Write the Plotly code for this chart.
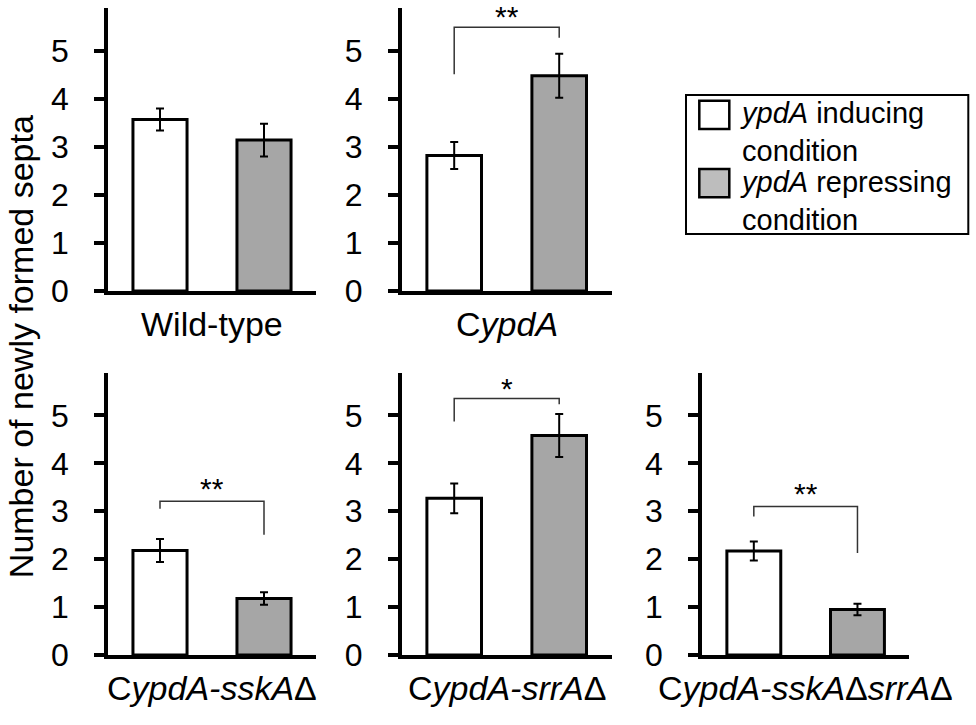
import plotly.graph_objects as go

# -----------------------------------------------------------------------------
# Data (mean +/- error, per strain)
# -----------------------------------------------------------------------------
strains = [
    "Wild-type",
    "C<i>ypdA</i>",
    "C<i>ypdA-sskA</i>Δ",
    "C<i>ypdA-srrA</i>Δ",
    "C<i>ypdA-sskA</i>Δ<i>srrA</i>Δ",
]
conditions = ["<i>ypdA</i> inducing<br>condition", "<i>ypdA</i> repressing<br>condition"]

inducing_mean = [3.57, 2.82, 2.18, 3.27, 2.17]
inducing_err = [0.23, 0.28, 0.24, 0.31, 0.20]
repressing_mean = [3.14, 4.48, 1.18, 4.58, 0.95]
repressing_err = [0.34, 0.46, 0.13, 0.45, 0.12]

# significance brackets: label, top y, left leg bottom, right leg bottom (None = no bracket)
sig_label = [None, "**", "**", "*", "**"]
sig_top = [None, 5.49, 3.21, 5.35, 3.10]
sig_left = [None, 4.51, 3.05, 4.87, 2.89]
sig_right = [None, 5.27, 2.51, 5.23, 2.13]
sig_text_y = [None, 5.72, 3.48, 5.58, 3.38]

y_ticks = [0, 1, 2, 3, 4, 5]

# -----------------------------------------------------------------------------
# Layout geometry (px of the 976x725 reference, turned into paper fractions)
# -----------------------------------------------------------------------------
W, H = 976, 725
FONT = "Arial, Liberation Sans, sans-serif"
WHITE = "#ffffff"
GREY = "#a6a6a6"

# x domains (px) and y domains (px from top: baseline, top)
x_dom_px = [(108, 316), (401.7, 611.7), (108, 316), (401.7, 611.7), (702, 909.3)]
y_dom_px = [(298.3, 8.7), (298.3, 8.7), (671.7, 382.7), (671.7, 382.7), (671.7, 382.7)]
Y_MAX = 5.88

fig = go.Figure()
annotations = []
shapes = []

for i, name in enumerate(strains):
    n = i + 1
    xa = "x" if n == 1 else f"x{n}"
    ya = "y" if n == 1 else f"y{n}"

    fig.add_trace(go.Bar(
        x=[0, 1],
        y=[inducing_mean[i], repressing_mean[i]],
        error_y=dict(type="data", array=[inducing_err[i], repressing_err[i]],
                     color="black", thickness=2, width=4),
        marker=dict(color=[WHITE, GREY], line=dict(color="black", width=3)),
        width=0.52,
        xaxis=xa, yaxis=ya,
        showlegend=False,
        hoverinfo="skip",
    ))

    if sig_label[i] is not None:
        fig.add_trace(go.Scatter(
            x=[0, 0, 1, 1],
            y=[sig_left[i], sig_top[i], sig_top[i], sig_right[i]],
            mode="lines",
            line=dict(color="#333333", width=1.5),
            xaxis=xa, yaxis=ya,
            showlegend=False,
            hoverinfo="skip",
        ))
        annotations.append(dict(
            x=0.5, y=sig_text_y[i], xref=xa, yref=ya,
            text=sig_label[i], showarrow=False, height=22,
            font=dict(family=FONT, size=30, color="black"),
        ))

    # strain label below each panel
    annotations.append(dict(
        x=0.5, y=0, xref=f"{xa} domain", yref=f"{ya} domain",
        text=name, showarrow=False, xanchor="center", yanchor="top", yshift=-12,
        font=dict(family=FONT, size=34, color="black"),
    ))

    x0, x1 = x_dom_px[i]
    yb, yt = y_dom_px[i]
    axis_key = "xaxis" if n == 1 else f"xaxis{n}"
    yaxis_key = "yaxis" if n == 1 else f"yaxis{n}"
    fig.update_layout(**{
        axis_key: dict(
            domain=[x0 / W, x1 / W], anchor=ya,
            range=[-0.5, 1.5], showline=True, linecolor="black", linewidth=3.5,
            showticklabels=False, ticks="", showgrid=False, zeroline=False,
            fixedrange=True,
        ),
        yaxis_key: dict(
            domain=[1 - yb / H, 1 - yt / H], anchor=xa,
            range=[0, Y_MAX], tickvals=y_ticks, showline=True,
            linecolor="black", linewidth=3.5, ticks="outside", ticklen=10,
            tickwidth=3.5, tickcolor="black", ticklabelstandoff=19,
            tickfont=dict(family=FONT, size=32, color="black"),
            showgrid=False, zeroline=False, fixedrange=True,
        ),
    })

# shared y title
annotations.append(dict(
    x=21 / W, y=1 - 356 / H, xref="paper", yref="paper",
    text="Number of newly formed septa", textangle=-90, showarrow=False,
    xanchor="center", yanchor="middle",
    font=dict(family=FONT, size=34, color="black"),
))

# legend box drawn by hand (plotly's bar swatches are too small)
shapes.append(dict(type="rect", xref="paper", yref="paper",
                   x0=686 / W, x1=968.3 / W, y0=1 - 240 / H, y1=1 - 97.3 / H,
                   line=dict(color="black", width=2), fillcolor="white"))
swatch_fill = [WHITE, "#bdbdbd"]
swatch_top = [103.3, 173.3]
text_mid = [135, 205.8]
for k, label in enumerate(conditions):
    shapes.append(dict(type="rect", xref="paper", yref="paper",
                       x0=699.3 / W, x1=729.3 / W,
                       y0=1 - (swatch_top[k] + 29) / H, y1=1 - swatch_top[k] / H,
                       line=dict(color="black", width=2.5), fillcolor=swatch_fill[k]))
    annotations.append(dict(
        x=738 / W, y=1 - text_mid[k] / H, xref="paper", yref="paper",
        text=label, showarrow=False, xanchor="left", yanchor="middle", align="left",
        font=dict(family=FONT, size=29, color="black"),
    ))

fig.update_layout(
    width=W, height=H,
    margin=dict(l=0, r=0, t=0, b=0),
    paper_bgcolor="white", plot_bgcolor="white",
    annotations=annotations, shapes=shapes,
    showlegend=False,
    font=dict(family=FONT, color="black"),
)

# drop the browser's default 8px body margin so the figure sits at 0,0
fig.write_html(
    "out.html",
    config={"displayModeBar": False},
    post_script="document.body.style.margin='0';document.body.style.overflow='hidden';",
)
